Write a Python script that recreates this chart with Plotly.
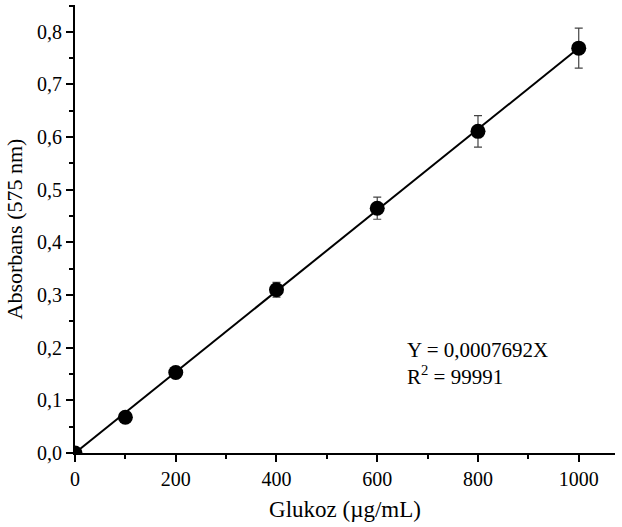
import plotly.graph_objects as go

glukoz = [0, 100, 200, 400, 600, 800, 1000]
absorbans = [0.0, 0.068, 0.153, 0.310, 0.465, 0.611, 0.769]
hata = [0.0, 0.003, 0.005, 0.014, 0.021, 0.030, 0.038]

egim = 0.0007692
fit_x = [0, 1000]
fit_y = [egim * v for v in fit_x]

FONT = "Liberation Serif, Times New Roman, serif"

fig = go.Figure()
fig.add_trace(go.Scatter(x=fit_x, y=fit_y, mode="lines",
                         line=dict(color="black", width=2), showlegend=False))
fig.add_trace(go.Scatter(x=glukoz, y=absorbans, mode="markers",
                         marker=dict(color="black", size=15),
                         error_y=dict(type="data", array=hata, color="#444444",
                                      thickness=1.2, width=4),
                         showlegend=False))

fig.add_annotation(x=0.611, y=0.199, xref="paper", yref="paper", xanchor="left",
                   yanchor="middle", showarrow=False, align="left",
                   text="Y = 0,0007692X<br>R<sup>2</sup> = 99991",
                   font=dict(family=FONT, size=21, color="black"))

fig.update_layout(
    width=622, height=527,
    margin=dict(l=75, r=7, t=5, b=74),
    plot_bgcolor="white", paper_bgcolor="white",
    separators=",.",
    font=dict(family=FONT, size=20, color="black"),
)
fig.update_xaxes(range=[0, 1072], tickvals=[0, 200, 400, 600, 800, 1000],
                 showline=True, linecolor="black", linewidth=2,
                 ticks="outside", ticklen=7, tickwidth=2, tickcolor="black",
                 minor=dict(dtick=100, tick0=0, ticks="outside", ticklen=4,
                            tickwidth=2, tickcolor="black"),
                 showgrid=False, zeroline=False, automargin=False,
                 title=dict(text="Glukoz (µg/mL)", font=dict(size=23), standoff=12),
                 tickfont=dict(size=20))
fig.update_yaxes(range=[0, 0.851], dtick=0.1, tick0=0, tickformat=".1f",
                 showline=True, linecolor="black", linewidth=2,
                 ticks="outside", ticklen=7, tickwidth=2, tickcolor="black",
                 minor=dict(dtick=0.05, tick0=0, ticks="outside", ticklen=4,
                            tickwidth=2, tickcolor="black"),
                 showgrid=False, zeroline=False, automargin=False,
                 title=dict(text="Absorbans (575 nm)", font=dict(size=22), standoff=8),
                 tickfont=dict(size=20))

fig.write_html("out.html", config={"displayModeBar": False})

with open("out.html", "r", encoding="utf-8") as f:
    html = f.read()
html = html.replace("<body>", '<body style="margin:0;padding:0;overflow:hidden">', 1)
with open("out.html", "w", encoding="utf-8") as f:
    f.write(html)
